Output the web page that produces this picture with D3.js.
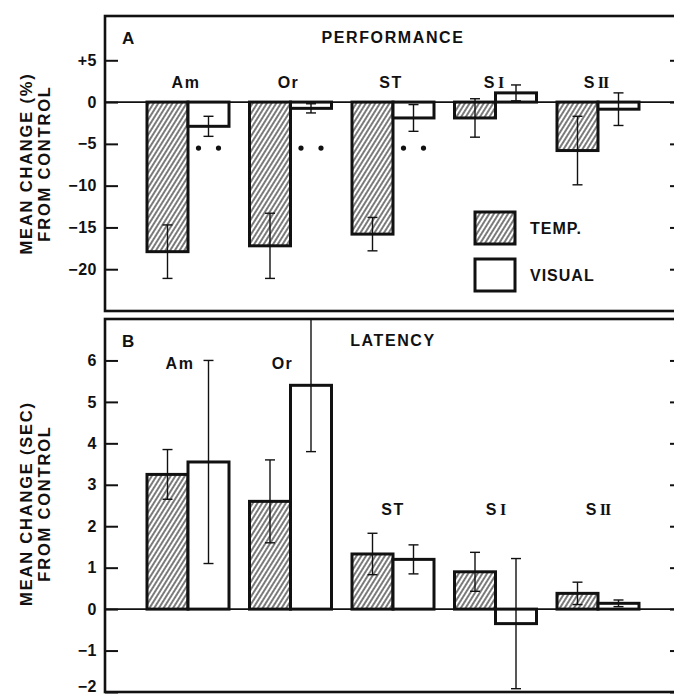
<!DOCTYPE html>
<html lang="en">
<head>
    <meta charset="UTF-8">
    <title>Performance and Latency</title>
    <script src="https://d3js.org/d3.v7.min.js"></script>
    <style>
        body {
            margin: 0;
            background: #fff;
        }

        svg text {
            font-family: "Liberation Sans", Arial, sans-serif;
            font-weight: bold;
            fill: #111;
        }

        .bar {
            stroke: #111;
            stroke-width: 3px;
        }

        .err {
            stroke: #111;
            stroke-width: 1.4px;
        }
    </style>
</head>
<body>

<div id="chart"></div>

<script>
    // regions (cortical ablation sites)
    const regions = ["Am", "Or", "ST", "SI", "SII"];

    // panel A: performance, mean change (%) from control
    const perfTemp = [-17.9, -17.2, -15.8, -1.9, -5.8];
    const perfTempErr = [3.2, 3.9, 2.0, 2.3, 4.1];
    const perfVisual = [-2.9, -0.75, -1.9, 1.1, -0.85];
    const perfVisualErr = [1.2, 0.55, 1.6, 0.95, 1.95];
    const perfSignificant = ["Am", "Or", "ST"];
    const perfTicks = [5, 0, -5, -10, -15, -20];

    // panel B: latency, mean change (sec) from control
    const latTemp = [3.25, 2.6, 1.33, 0.9, 0.38];
    const latTempErr = [0.6, 1.0, 0.5, 0.47, 0.27];
    const latVisual = [3.55, 5.4, 1.2, -0.35, 0.14];
    const latVisualErr = [2.45, 1.6, 0.35, 1.57, 0.08];
    const latTicks = [-2, -1, 0, 1, 2, 3, 4, 5, 6];

    const width = 674, height = 696;
    const frameLeft = 105, frameRight = 683;

    const svg = d3.select("#chart").append("svg")
        .attr("width", width)
        .attr("height", height);

    const defs = svg.append("defs");
    const hatch = defs.append("pattern")
        .attr("id", "hatch")
        .attr("patternUnits", "userSpaceOnUse")
        .attr("width", 4)
        .attr("height", 10)
        .attr("patternTransform", "rotate(32)");
    hatch.append("rect").attr("width", 4).attr("height", 10).attr("fill", "#fff");
    hatch.append("line")
        .attr("x1", 1).attr("y1", 0).attr("x2", 1).attr("y2", 10)
        .attr("stroke", "#222").attr("stroke-width", 1.2);

    const x = d3.scaleBand()
        .domain(regions)
        .range([136.75, 649.25])
        .paddingInner(0.2)
        .paddingOuter(0.1);

    const xs = d3.scaleBand()
        .domain(["temp", "visual"])
        .range([0, x.bandwidth()]);

    function drawPanel(p) {
        const g = svg.append("g");
        const y = d3.scaleLinear().domain(p.domain).range([p.bottom, p.top]);

        // frame
        g.append("rect")
            .attr("x", frameLeft).attr("y", p.top)
            .attr("width", frameRight - frameLeft).attr("height", p.bottom - p.top)
            .attr("fill", "none").attr("stroke", "#111").attr("stroke-width", 2.6);

        // zero line
        g.append("line")
            .attr("x1", frameLeft).attr("x2", frameRight)
            .attr("y1", y(0)).attr("y2", y(0))
            .attr("stroke", "#111").attr("stroke-width", 1.6);

        // axes with inward ticks
        const left = g.append("g")
            .attr("transform", `translate(${frameLeft},0)`)
            .call(d3.axisLeft(y).tickValues(p.ticks).tickSizeInner(-13).tickSizeOuter(0)
                .tickPadding(8).tickFormat(p.format));
        left.select(".domain").remove();
        left.selectAll("line").attr("stroke", "#111").attr("stroke-width", 2);
        left.selectAll("text")
            .attr("font-size", 16).attr("font-family", null)
            .attr("letter-spacing", 0.5);
        // keep the bottom-most label inside the page
        left.selectAll(".tick text")
            .filter(d => y(d) > height - 8)
            .attr("dy", "0")
            .attr("y", -1);

        const right = g.append("g")
            .attr("transform", `translate(${frameRight},0)`)
            .call(d3.axisRight(y).tickValues(p.ticks).tickSizeInner(-13).tickSizeOuter(0).tickFormat(""));
        right.select(".domain").remove();
        right.selectAll("line").attr("stroke", "#111").attr("stroke-width", 2);

        // bars
        const rows = regions.map((r, i) => [
            {region: r, series: "temp", value: p.temp[i], err: p.tempErr[i]},
            {region: r, series: "visual", value: p.visual[i], err: p.visualErr[i]}
        ]).flat();

        g.selectAll(".bar")
            .data(rows)
            .enter()
            .append("rect")
            .attr("class", "bar")
            .attr("x", d => x(d.region) + xs(d.series))
            .attr("y", d => Math.min(y(d.value), y(0)))
            .attr("width", xs.bandwidth())
            .attr("height", d => Math.abs(y(d.value) - y(0)))
            .attr("fill", d => d.series === "temp" ? "url(#hatch)" : "#fff");

        // error bars
        const cx = d => x(d.region) + xs(d.series) + xs.bandwidth() / 2;
        const eb = g.selectAll(".errbar").data(rows).enter().append("g").attr("class", "errbar");
        eb.append("line").attr("class", "err")
            .attr("x1", cx).attr("x2", cx)
            .attr("y1", d => y(d.value - d.err)).attr("y2", d => y(d.value + d.err));
        [-1, 1].forEach(s => {
            eb.append("line").attr("class", "err")
                .attr("x1", d => cx(d) - 5).attr("x2", d => cx(d) + 5)
                .attr("y1", d => y(d.value + s * d.err)).attr("y2", d => y(d.value + s * d.err));
        });

        // region labels
        g.selectAll(".region")
            .data(regions)
            .enter()
            .append("text")
            .attr("class", "region")
            .attr("x", d => x(d) + x.bandwidth() / 2 + p.labelShift(d))
            .attr("y", d => y(p.labelY(d)))
            .attr("text-anchor", "middle")
            .attr("font-size", 16)
            .attr("letter-spacing", 1.5)
            .each(function (d) {
                const t = d3.select(this);
                t.append("tspan").text(d.slice(0, 1) === "S" && d !== "ST" ? "S" : d);
                if (d === "SI" || d === "SII") {
                    t.append("tspan")
                        .style("font-family", "'Liberation Serif', serif")
                        .attr("dx", 2)
                        .attr("letter-spacing", -1)
                        .text(d.slice(1));
                }
            });

        // panel letter and title
        g.append("text").attr("x", 122).attr("y", p.top + 28)
            .attr("font-size", 17).text(p.letter);
        g.append("text").attr("x", 393).attr("y", p.top + 27)
            .attr("text-anchor", "middle").attr("font-size", 16)
            .attr("letter-spacing", 1.6).text(p.title);

        // y label, two lines
        const cy = (p.top + p.bottom) / 2 + p.labelOffset;
        p.ylabel.forEach((line, i) => {
            g.append("text")
                .attr("transform", `translate(${32 + i * 18},${cy}) rotate(-90)`)
                .attr("text-anchor", "middle")
                .attr("font-size", 16.5)
                .attr("letter-spacing", 1.8)
                .text(line);
        });

        return {g, y};
    }

    const fmtPerf = d => d > 0 ? "+" + d : d < 0 ? "\u2212" + Math.abs(d) : "0";
    const fmtLat = d => d < 0 ? "\u2212" + Math.abs(d) : String(d);

    const panelA = drawPanel({
        top: 16, bottom: 311, domain: [-25, 10.3],
        ticks: perfTicks, format: fmtPerf,
        temp: perfTemp, tempErr: perfTempErr, visual: perfVisual, visualErr: perfVisualErr,
        letter: "A", title: "PERFORMANCE",
        ylabel: ["MEAN CHANGE (%)", "FROM CONTROL"], labelOffset: 0,
        labelY: () => 1.7, labelShift: () => -2
    });

    // significance markers under the visual bars
    panelA.g.selectAll(".sig")
        .data(perfSignificant.flatMap(r => [[r, -1], [r, 1]]))
        .enter()
        .append("circle")
        .attr("cx", d => x(d[0]) + xs("visual") + xs.bandwidth() / 2 + d[1] * 10)
        .attr("cy", panelA.y(-5.5))
        .attr("r", 2.6)
        .attr("fill", "#111");

    // legend
    const legend = panelA.g.append("g").attr("transform", "translate(475,212)");
    [["temp", "TEMP."], ["visual", "VISUAL"]].forEach(([key, label], i) => {
        legend.append("rect")
            .attr("class", "bar")
            .attr("x", 0).attr("y", i * 47)
            .attr("width", 40).attr("height", 32)
            .attr("fill", key === "temp" ? "url(#hatch)" : "#fff");
        legend.append("text")
            .attr("x", 55).attr("y", i * 47 + 22)
            .attr("font-size", 16).attr("letter-spacing", 1)
            .text(label);
    });

    drawPanel({
        top: 319, bottom: 692, domain: [-2, 7],
        ticks: latTicks, format: fmtLat,
        temp: latTemp, tempErr: latTempErr, visual: latVisual, visualErr: latVisualErr,
        letter: "B", title: "LATENCY",
        ylabel: ["MEAN CHANGE (SEC)", "FROM CONTROL"], labelOffset: -2,
        labelY: d => (d === "Am" || d === "Or") ? 5.8 : 2.27,
        labelShift: d => (d === "Am" || d === "Or") ? -8 : 0
    });
</script>

</body>
</html>
